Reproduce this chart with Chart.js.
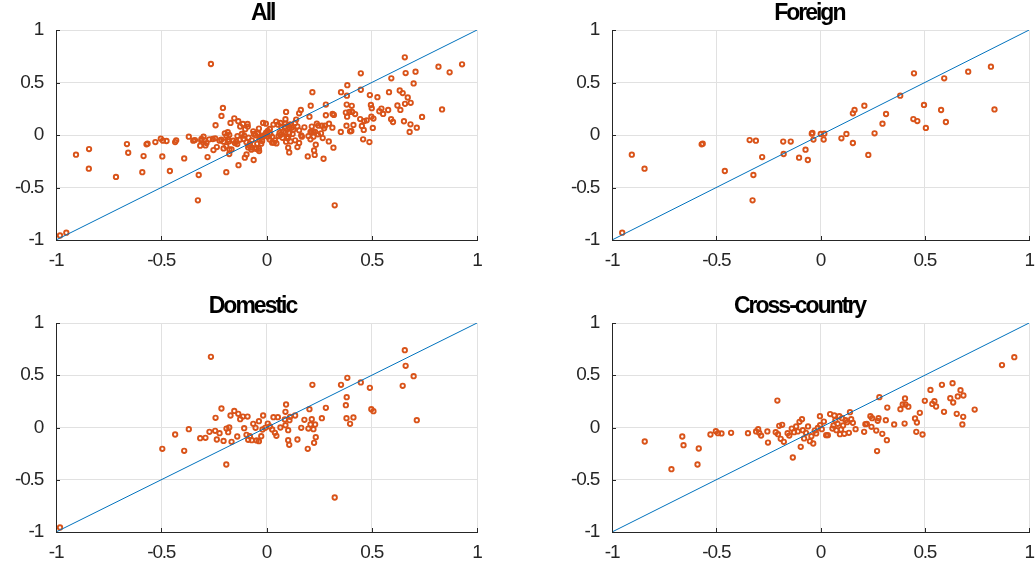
<!DOCTYPE html>
<html>
<head>
<meta charset="utf-8">
<script src="https://cdn.jsdelivr.net/npm/chart.js@4.4.1/dist/chart.umd.min.js"></script>
<style>
  body { margin: 0; background: #fff; width: 1035px; height: 565px; overflow: hidden; }
  .panel { position: absolute; }
</style>
</head>
<body>
<div class="panel" style="left:0;top:0"><canvas id="cAll" width="500" height="270"></canvas></div>
<div class="panel" style="left:556px;top:0"><canvas id="cForeign" width="479" height="270"></canvas></div>
<div class="panel" style="left:0;top:293px"><canvas id="cDomestic" width="500" height="269"></canvas></div>
<div class="panel" style="left:556px;top:293px"><canvas id="cCross" width="479" height="269"></canvas></div>
<script>
// --- DONNEES (x, y) ---
const foreign = [
  [-0.951,-0.930],[-0.905,-0.187],[-0.844,-0.321],[-0.570,-0.089],[-0.565,-0.083],
  [-0.459,-0.343],[-0.340,-0.048],[-0.310,-0.054],[-0.322,-0.381],[-0.326,-0.622],
  [-0.280,-0.210],[-0.179,-0.063],[-0.143,-0.063],[-0.177,-0.181],[-0.103,-0.216],
  [-0.061,-0.238],[-0.072,-0.140],[-0.042,0.013],[-0.039,0.019],[-0.034,-0.044],
  [0.001,0.010],[0.018,0.013],[0.015,-0.044],[0.100,-0.032],[0.124,0.010],
  [0.155,-0.076],[0.155,0.206],[0.163,0.238],[0.210,0.279],[0.229,-0.190],
  [0.259,0.016],[0.297,0.108],[0.314,0.200],[0.382,0.375],[0.448,0.587],
  [0.445,0.152],[0.464,0.133],[0.496,0.286],[0.505,0.067],[0.578,0.238],
  [0.593,0.540],[0.601,0.124],[0.708,0.603],[0.817,0.651],[0.834,0.244]
];

const domestic = [
  [-0.981,-0.957],[-0.264,0.676],[-0.495,-0.204],[-0.434,-0.067],[-0.391,-0.223],
  [-0.369,-0.016],[-0.315,-0.102],[-0.290,-0.099],[-0.271,-0.041],[-0.242,0.093],
  [-0.244,-0.032],[-0.236,-0.115],[-0.223,-0.054],[-0.214,0.182],[-0.204,-0.128],
  [-0.191,-0.354],[-0.190,-0.010],[-0.182,-0.045],[-0.177,0.000],[-0.171,0.115],
  [-0.166,-0.137],[-0.153,0.159],[-0.139,-0.086],[-0.134,0.131],[-0.125,0.080],
  [-0.112,0.105],[-0.106,-0.006],[-0.090,0.105],[-0.095,-0.070],[-0.087,-0.118],
  [-0.079,-0.083],[-0.070,-0.121],[-0.063,0.035],[-0.052,-0.003],[-0.047,-0.124],
  [-0.036,0.061],[-0.036,-0.131],[-0.025,-0.083],[-0.016,0.115],[-0.019,-0.019],
  [-0.006,-0.003],[0.006,0.038],[0.016,0.010],[0.027,-0.019],[0.033,0.099],
  [0.040,-0.051],[0.047,-0.080],[0.054,0.099],[0.066,0.000],[0.087,0.077],
  [0.090,0.150],[0.093,0.220],[0.090,0.022],[0.103,-0.026],[0.103,-0.121],
  [0.108,-0.166],[0.109,0.070],[0.112,0.102],[0.136,0.115],[0.147,-0.115],
  [0.165,-0.003],[0.180,0.073],[0.196,-0.204],[0.199,-0.010],[0.204,0.175],
  [0.209,0.029],[0.215,0.080],[0.218,0.408],[0.223,-0.016],[0.226,-0.147],
  [0.231,0.029],[0.234,-0.093],[0.263,0.089],[0.282,0.188],[0.324,-0.670],
  [0.354,0.408],[0.377,0.214],[0.381,0.290],[0.384,0.475],[0.380,0.089],
  [0.397,0.035],[0.413,0.096],[0.448,0.431],[0.491,0.380],[0.498,0.175],
  [0.508,0.156],[0.647,0.399],[0.657,0.740],[0.661,0.590],[0.699,0.491],
  [0.714,0.070]
];

const crossCountry = [
  [-0.843,-0.134],[-0.715,-0.399],[-0.663,-0.086],[-0.657,-0.169],[-0.590,-0.354],
  [-0.584,-0.201],[-0.528,-0.067],[-0.502,-0.035],[-0.492,-0.054],[-0.475,-0.057],
  [-0.429,-0.051],[-0.348,-0.054],[-0.309,-0.038],[-0.299,-0.016],[-0.294,-0.051],
  [-0.285,-0.077],[-0.255,-0.038],[-0.252,-0.144],[-0.207,0.258],[-0.215,-0.045],
  [-0.204,-0.064],[-0.198,0.016],[-0.191,-0.108],[-0.184,0.026],[-0.176,-0.137],
  [-0.158,-0.054],[-0.150,-0.077],[-0.133,-0.287],[-0.138,-0.010],[-0.127,-0.045],
  [-0.117,0.010],[-0.109,-0.038],[-0.101,0.054],[-0.095,-0.185],[-0.089,0.080],
  [-0.085,-0.026],[-0.079,-0.105],[-0.070,-0.051],[-0.060,0.010],[-0.051,-0.131],
  [-0.044,-0.083],[-0.035,-0.153],[-0.028,-0.029],[-0.021,-0.057],[-0.013,-0.003],
  [-0.003,0.108],[-0.002,0.022],[0.006,-0.016],[0.016,0.057],[0.027,-0.073],
  [0.035,-0.073],[0.046,0.128],[0.057,-0.010],[0.062,0.019],[0.066,0.115],
  [0.071,0.070],[0.076,-0.026],[0.082,0.035],[0.090,0.108],[0.093,-0.064],
  [0.098,-0.019],[0.103,0.089],[0.108,0.019],[0.114,-0.061],[0.120,0.070],
  [0.127,0.051],[0.136,-0.051],[0.141,0.147],[0.147,0.080],[0.155,0.045],
  [0.168,-0.016],[0.209,-0.041],[0.215,0.032],[0.222,0.035],[0.239,0.108],
  [0.244,0.006],[0.247,0.089],[0.267,-0.029],[0.271,-0.226],[0.274,0.064],
  [0.278,0.089],[0.282,0.290],[0.296,-0.061],[0.313,0.070],[0.318,-0.121],
  [0.320,0.191],[0.353,0.029],[0.383,0.175],[0.394,0.220],[0.405,0.278],
  [0.407,0.220],[0.421,0.199],[0.403,0.038],[0.453,0.086],[0.462,0.048],
  [0.459,-0.041],[0.476,0.140],[0.489,-0.067],[0.500,0.255],[0.527,0.360],
  [0.536,0.226],[0.546,0.252],[0.554,0.201],[0.582,0.408],[0.592,0.150],
  [0.622,0.281],[0.633,0.424],[0.636,0.239],[0.653,0.131],[0.658,0.297],
  [0.671,0.357],[0.685,0.306],[0.684,0.102],[0.680,0.029],[0.739,0.172],
  [0.870,0.597],[0.929,0.673]
];

// "All" = tous les points
const allPoints = [...foreign, ...domestic, ...crossCountry];

// droite 45 degres
const diagX = [-1, 1];
const diagY = [-1, 1];

const tickVals = [-1, -0.5, 0, 0.5, 1];
const tickText = ['-1', '-0.5', '0', '0.5', '1'];

const ORANGE = '#D95319';
const BLUE = '#0072BD';
const AXIS = '#262626';
const FONT = "'Liberation Sans', Arial, sans-serif";

// titre style MATLAB (serre, un peu decale a gauche)
const titlePlugin = {
    id: 'panelTitle',
    afterDraw(chart, args, opts) {
        const {ctx, chartArea} = chart;
        ctx.save();
        ctx.font = `bold 23px ${FONT}`;
        ctx.letterSpacing = '-2px';
        ctx.fillStyle = '#000';
        ctx.textAlign = 'left';
        ctx.textBaseline = 'alphabetic';
        const w = ctx.measureText(opts.text).width;
        const cx = (chartArea.left + chartArea.right) / 2;
        ctx.fillText(opts.text, cx - 0.66 * w, chartArea.top - 10);
        ctx.restore();
    }
};

// petites graduations vers l'interieur
const innerTicks = {
    id: 'innerTicks',
    beforeDraw(chart) {
        chart.ctx.letterSpacing = '-1.2px';
    },
    afterDraw(chart) {
        const {ctx, chartArea, scales} = chart;
        ctx.save();
        ctx.strokeStyle = AXIS;
        ctx.lineWidth = 1;
        ctx.beginPath();
        tickVals.forEach(v => {
            const py = Math.round(scales.y.getPixelForValue(v)) + 0.5;
            ctx.moveTo(chartArea.left, py);
            ctx.lineTo(chartArea.left + 4, py);
            const px = Math.round(scales.x.getPixelForValue(v)) + 0.5;
            ctx.moveTo(px, chartArea.bottom);
            ctx.lineTo(px, chartArea.bottom - 4);
        });
        ctx.stroke();
        ctx.restore();
    }
};

function axisOpts(isX) {
    return {
        type: 'linear',
        min: -1,
        max: 1,
        afterBuildTicks: s => { s.ticks = tickVals.map(v => ({ value: v })); },
        afterFit: s => {
            if (isX) { s.height = 30; s.paddingLeft = 0; s.paddingRight = 0; }
            else { s.width = 56; s.paddingTop = 0; s.paddingBottom = 0; }
        },
        ticks: {
            color: AXIS,
            font: { family: FONT, size: 19 },
            padding: isX ? 9 : 13,
            maxRotation: 0,
            autoSkip: false,
            callback: (v) => tickText[tickVals.indexOf(v)]
        },
        grid: { color: '#e1e1e1', lineWidth: 1, drawTicks: false },
        border: { color: AXIS, width: 1 }
    };
}

function makeChart(id, title, points, rightPad) {
    new Chart(document.getElementById(id), {
        type: 'scatter',
        data: {
            datasets: [
                {
                    type: 'line',
                    data: diagX.map((x, i) => ({ x: x, y: diagY[i] })),
                    borderColor: BLUE,
                    borderWidth: 1,
                    pointRadius: 0,
                    fill: false
                },
                {
                    data: points.map(p => ({ x: p[0], y: p[1] })),
                    pointStyle: 'circle',
                    pointRadius: 2.2,
                    borderWidth: 1.9,
                    borderColor: ORANGE,
                    backgroundColor: 'rgba(0,0,0,0)'
                }
            ]
        },
        options: {
            responsive: false,
            animation: false,
            devicePixelRatio: 1,
            layout: { padding: { top: 30, right: rightPad, left: 0, bottom: 0 } },
            scales: { x: axisOpts(true), y: axisOpts(false) },
            plugins: {
                legend: { display: false },
                tooltip: { enabled: false },
                panelTitle: { text: title }
            }
        },
        plugins: [titlePlugin, innerTicks]
    });
}

makeChart('cAll', 'All', allPoints, 23);
makeChart('cForeign', 'Foreign', foreign, 2);
makeChart('cDomestic', 'Domestic', domestic, 23);
makeChart('cCross', 'Cross-country', crossCountry, 3);
</script>
</body>
</html>
